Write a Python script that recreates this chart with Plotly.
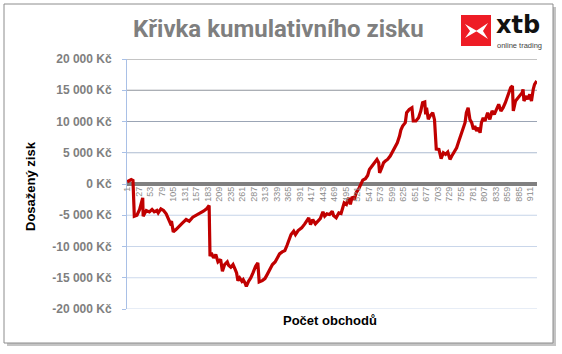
import plotly.graph_objects as go

# ---- data ----
trade = [1, 10, 14, 17, 23, 29, 36, 37, 44, 51, 57, 62, 68, 71, 77, 83, 89, 94, 98, 101,
         105, 111, 118, 126, 134, 141, 149, 156, 164, 173, 181, 186, 188, 191, 196, 201, 206,
         212, 216, 221, 227, 230, 235, 240, 245, 248, 251, 255, 260, 263, 267, 270, 275, 280,
         285, 291, 296, 299, 306, 312, 317, 323, 329, 335, 340, 345, 351, 357, 362, 366, 371,
         377, 381, 387, 395, 402, 407, 411, 415, 420, 426, 432, 437, 443, 447, 452, 458, 464,
         467, 473, 479, 484, 488, 491, 496, 501, 505, 509, 514, 518, 524, 527, 533, 539, 544,
         548, 554, 559, 565, 569, 571, 576, 580, 584, 589, 595, 599, 602, 606, 611, 616, 619,
         623, 629, 632, 638, 644, 647, 653, 659, 664, 668, 673, 675, 677, 681, 685, 691, 695,
         699, 705, 710, 715, 720, 725, 730, 734, 740, 745, 750, 755, 760, 764, 767, 771, 775,
         779, 783, 786, 790, 794, 798, 801, 805, 809, 815, 820, 825, 830, 835, 840, 845, 850,
         855, 861, 867, 871, 873, 878, 884, 888, 893, 895, 897, 903, 906, 910, 914, 918, 921,
         926]
profit = [350, 720, 560, -5150, -4990, -4080, -2210, -5150, -4240, -4460, -4080, -4460, -4240,
          -4620, -3980, -4240, -4780, -5690, -6220, -5950, -7660, -7290, -6860, -6220, -5690,
          -5950, -5310, -5050, -4670, -4350, -3920, -3440, -11560, -11030, -11830, -11290,
          -12470, -12090, -13960, -12890, -12470, -13000, -13320, -12890, -13700, -14230,
          -15460, -15030, -15570, -15300, -15830, -16370, -15570, -15030, -14230, -13160,
          -12630, -15670, -15460, -15140, -14500, -13700, -12890, -12470, -11830, -11190,
          -10870, -10650, -9800, -8890, -8090, -7550, -8090, -7450, -7020, -6380, -5950, -5420,
          -6490, -5690, -6380, -5950, -5530, -4460, -5150, -4780, -4880, -4350, -5040, -5410,
          -4610, -4720, -3810, -3010, -3270, -2210, -3270, -2050, -2470, -1400, -760, -340, 620,
          840, 1370, 2330, 2970, 3510, 3930, 3400, 1800, 2600, 3400, 3670, 3930, 4470, 5000,
          5540, 5960, 6600, 7670, 8630, 9270, 9810, 11410, 11940, 12210, 10080, 10080, 10610,
          11680, 13010, 13120, 11140, 12210, 10340, 10880, 11410, 10300, 5600, 5540, 4040, 5000,
          4740, 5110, 3940, 4470, 5110, 5800, 6870, 7940, 8740, 9810, 11410, 12210, 10340, 9810,
          8740, 9280, 8480, 9010, 8210, 9810, 10610, 10080, 11410, 10340, 11680, 11140, 11940,
          12750, 11680, 12210, 13010, 14080, 15420, 15680, 11680, 13280, 13820, 14080, 14620,
          15150, 13280, 14080, 13550, 14350, 13280, 15150, 15950, 16480]

x_tick_vals = [1, 27, 53, 79, 105, 131, 157, 183, 209, 235, 261, 287, 313, 339, 365, 391, 417,
               443, 469, 495, 521, 547, 573, 599, 625, 651, 677, 703, 729, 755, 781, 807, 833,
               859, 885, 911]
x_tick_labels = [str(v) for v in x_tick_vals]
y_tick_vals = [20000, 15000, 10000, 5000, 0, -5000, -10000, -15000, -20000]
y_tick_labels = ["20 000 Kč", "15 000 Kč", "10 000 Kč", "5 000 Kč", "0 Kč",
                 "-5 000 Kč", "-10 000 Kč", "-15 000 Kč", "-20 000 Kč"]
grid_colors = ["#8a8a8a", "#8f949c", "#9ba5b5", "#adbbd0", None,
               "#c6d4e8", "#c9d6ea", "#ccd9ec", "#d0dcee"]

title_text = "Křivka kumulativního zisku"
x_title = "Počet obchodů"
y_title = "Dosažený zisk"

# ---- layout geometry (pixels) ----
W, H = 562, 354
L, R, T, B = 127, 537, 59, 309
def px(p):
    return (p - L) / (R - L)
def py(q):
    return (B - q) / (B - T)

fig = go.Figure()
fig.add_trace(go.Scatter(x=trade, y=profit, mode="lines",
                         line=dict(color="#c00000", width=3.2), hoverinfo="skip"))

shapes = []
# shadow + border
shapes.append(dict(type="rect", xref="paper", yref="paper", x0=px(7), x1=px(556), y0=py(346), y1=py(7),
                   fillcolor="#c4c4c4", line=dict(width=0), layer="below"))
shapes.append(dict(type="rect", xref="paper", yref="paper", x0=px(4), x1=px(553), y0=py(343), y1=py(4),
                   fillcolor="white", line=dict(color="#8c8c8c", width=1), layer="below"))
# gridlines
for v, c in zip(y_tick_vals, grid_colors):
    if c is None:
        continue
    shapes.append(dict(type="line", xref="paper", yref="y", x0=0, x1=1, y0=v, y1=v,
                       line=dict(color=c, width=1.2), layer="below"))
# logo
shapes.append(dict(type="rect", xref="paper", yref="paper", x0=px(461), x1=px(491), y0=py(46), y1=py(15),
                   fillcolor="#ee1c25", line=dict(width=0)))
def path(pts):
    return "M " + " L ".join(f"{px(a):.4f},{py(b):.4f}" for a, b in pts) + " Z"
shapes.append(dict(type="path", xref="paper", yref="paper",
                   path=path([(465, 24), (477, 31), (465, 38), (470, 31)]),
                   fillcolor="white", line=dict(width=0)))
shapes.append(dict(type="path", xref="paper", yref="paper",
                   path=path([(476, 31), (488, 23), (483, 31), (488, 39)]),
                   fillcolor="white", line=dict(width=0)))

annotations = [
    dict(text=f"<b>{title_text}</b>", xref="paper", yref="paper", x=px(278), y=py(29),
         showarrow=False, font=dict(family="Roboto", size=24, color="#7f7f7f"),
         xanchor="center", yanchor="middle"),
    dict(text="<b>xtb</b>", xref="paper", yref="paper", x=px(518), y=py(25),
         showarrow=False, font=dict(family="DejaVu Sans", size=24, color="#111111"),
         xanchor="center", yanchor="middle"),
    dict(text="online trading", xref="paper", yref="paper", x=px(519), y=py(46),
         showarrow=False, font=dict(family="Liberation Sans", size=7.5, color="#444444"),
         xanchor="center", yanchor="middle"),
    dict(text=f"<b>{x_title}</b>", xref="paper", yref="paper", x=px(330), y=py(320),
         showarrow=False, font=dict(family="Liberation Sans", size=13, color="#000000"),
         xanchor="center", yanchor="middle"),
    dict(text=f"<b>{y_title}</b>", xref="paper", yref="paper", x=px(30), y=py(186),
         showarrow=False, textangle=-90, font=dict(family="Liberation Sans", size=13, color="#000000"),
         xanchor="center", yanchor="middle"),
]

fig.update_layout(
    width=W, height=H,
    margin=dict(l=L, r=W - R, t=T, b=H - B),
    paper_bgcolor="white", plot_bgcolor="rgba(0,0,0,0)",
    showlegend=False,
    shapes=shapes, annotations=annotations,
    xaxis=dict(range=[0.5, 926.5], tickvals=x_tick_vals, ticktext=x_tick_labels,
               tickangle=-90, tickfont=dict(family="Liberation Sans", size=9, color="#8c8c8c"),
               showgrid=False, zeroline=False, showline=False, ticks="",
               anchor="free", position=0.5),
    yaxis=dict(range=[-20000, 20000], tickvals=y_tick_vals, ticktext=y_tick_labels,
               tickfont=dict(family="Liberation Sans", size=12, color="#7f7f7f", weight="bold"),
               showgrid=False, zeroline=True, zerolinecolor="#808080", zerolinewidth=3.5,
               showline=True, linecolor="#a9c0e6", linewidth=1,
               ticks="outside", ticklen=4, tickcolor="#a9c0e6", ticklabelstandoff=8),
)

fig.write_html("out.html")
